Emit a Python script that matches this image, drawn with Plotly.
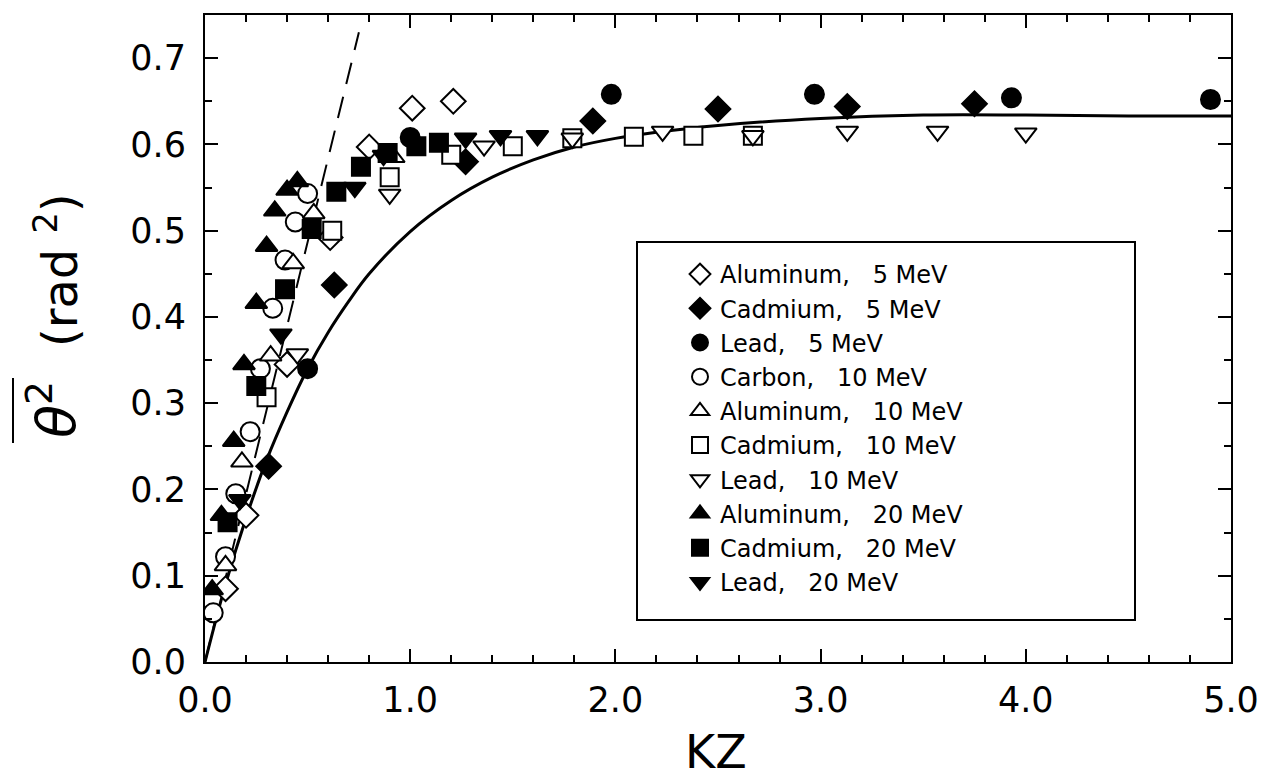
import plotly.graph_objects as go

# Mean square scattering angle vs. KZ, measured for several targets/energies
al5_x = [0.10, 0.20, 0.40, 0.61, 0.80, 1.01, 1.21]
al5_y = [0.085, 0.170, 0.345, 0.492, 0.597, 0.642, 0.650]

cd5_x = [0.31, 0.63, 1.27, 1.89, 2.50, 3.13, 3.75]
cd5_y = [0.227, 0.437, 0.580, 0.627, 0.641, 0.644, 0.647]

pb5_x = [0.50, 1.00, 1.98, 2.97, 3.93, 4.90]
pb5_y = [0.340, 0.608, 0.658, 0.658, 0.654, 0.652]

c10_x = [0.04, 0.10, 0.15, 0.22, 0.27, 0.33, 0.39, 0.44, 0.50]
c10_y = [0.057, 0.122, 0.195, 0.267, 0.340, 0.410, 0.466, 0.510, 0.543]

al10_x = [0.10, 0.18, 0.32, 0.43, 0.53, 0.92]
al10_y = [0.112, 0.232, 0.355, 0.462, 0.520, 0.585]

cd10_x = [0.30, 0.62, 0.90, 1.20, 1.50, 1.79, 2.09, 2.38, 2.67]
cd10_y = [0.307, 0.500, 0.562, 0.588, 0.598, 0.607, 0.609, 0.610, 0.610]

pb10_x = [0.45, 0.90, 1.36, 1.79, 2.23, 2.67, 3.13, 3.57, 4.00]
pb10_y = [0.357, 0.542, 0.598, 0.607, 0.615, 0.610, 0.615, 0.615, 0.613]

al20_x = [0.035, 0.08, 0.14, 0.19, 0.25, 0.30, 0.34, 0.40, 0.45]
al20_y = [0.084, 0.170, 0.256, 0.345, 0.416, 0.482, 0.523, 0.547, 0.557]

cd20_x = [0.11, 0.25, 0.39, 0.52, 0.64, 0.76, 0.89, 1.03, 1.14]
cd20_y = [0.162, 0.320, 0.432, 0.502, 0.545, 0.574, 0.590, 0.598, 0.602]

pb20_x = [0.17, 0.37, 0.73, 0.87, 1.27, 1.44, 1.62]
pb20_y = [0.188, 0.380, 0.550, 0.587, 0.607, 0.610, 0.610]

# theory curve (solid) and initial-slope line (dashed)
theory_x = [0.0, 0.1, 0.2, 0.3, 0.4, 0.5, 0.6, 0.7, 0.8, 1.0, 1.2, 1.4, 1.6,
            1.8, 2.0, 2.2, 2.5, 3.0, 3.5, 4.0, 4.5, 5.0]
theory_y = [0.0, 0.090, 0.167, 0.234, 0.290, 0.340, 0.382, 0.418, 0.450, 0.499,
            0.535, 0.562, 0.582, 0.597, 0.607, 0.614, 0.622, 0.630, 0.634,
            0.634, 0.633, 0.633]
slope_x = [0.0, 0.75]
slope_y = [0.0, 0.73]

SP = "\u00a0" * 3
series = [
    ("Aluminum,", "5 MeV", al5_x, al5_y, "diamond", True),
    ("Cadmium,", "5 MeV", cd5_x, cd5_y, "diamond", False),
    ("Lead,", "5 MeV", pb5_x, pb5_y, "circle", False),
    ("Carbon,", "10 MeV", c10_x, c10_y, "circle", True),
    ("Aluminum,", "10 MeV", al10_x, al10_y, "triangle-up", True),
    ("Cadmium,", "10 MeV", cd10_x, cd10_y, "square", True),
    ("Lead,", "10 MeV", pb10_x, pb10_y, "triangle-down", True),
    ("Aluminum,", "20 MeV", al20_x, al20_y, "triangle-up", False),
    ("Cadmium,", "20 MeV", cd20_x, cd20_y, "square", False),
    ("Lead,", "20 MeV", pb20_x, pb20_y, "triangle-down", False),
]
sizes = {"diamond": 19, "circle": 19, "triangle-up": 19, "square": 18,
         "triangle-down": 19}

fig = go.Figure()
fig.add_trace(go.Scatter(x=theory_x, y=theory_y, mode="lines",
                         line=dict(color="black", width=3, shape="spline"),
                         showlegend=False, hoverinfo="skip"))
fig.add_trace(go.Scatter(x=slope_x, y=slope_y, mode="lines",
                         line=dict(color="black", width=2, dash="22px,13px"),
                         showlegend=False, hoverinfo="skip"))

for name, energy, xs, ys, sym, hollow in series:
    fig.add_trace(go.Scatter(
        x=xs, y=ys, mode="markers",
        name=f"{name}{SP}{energy}",
        marker=dict(symbol=sym, size=sizes[sym],
                    color="white" if hollow else "black",
                    line=dict(color="black", width=2)),
    ))

FONT = "DejaVu Sans"
L, R, T, B = 205, 46, 15, 120
W, H = 1277, 782
pw, ph = W - L - R, H - T - B


def px(xp):
    return (xp - L) / pw


def py(yp):
    return (H - B - yp) / ph


axis_common = dict(showline=True, linecolor="black", linewidth=2, mirror="ticks",
                   ticks="inside", ticklen=13, tickwidth=2, tickcolor="black",
                   showgrid=False, zeroline=False,
                   tickfont=dict(family=FONT, size=35, color="black"))

fig.update_xaxes(range=[0, 5], dtick=1.0, tick0=0, tickformat=".1f",
                 minor=dict(dtick=0.2, ticks="inside", ticklen=7, tickwidth=2,
                            tickcolor="black", showgrid=False),
                 ticklabelstandoff=6, **axis_common)
fig.update_yaxes(range=[0, 0.75], dtick=0.1, tick0=0, tickformat=".1f",
                 minor=dict(dtick=0.05, ticks="inside", ticklen=7, tickwidth=2,
                            tickcolor="black", showgrid=False),
                 ticklabelstandoff=10, **axis_common)

# legend frame
fig.add_shape(type="rect", xref="paper", yref="paper",
              x0=px(637), x1=px(1135), y0=py(620), y1=py(242),
              line=dict(color="black", width=2), fillcolor="white", layer="below")

# axis titles
fig.add_annotation(text="KZ", xref="paper", yref="paper", x=px(716), y=py(752),
                   xanchor="center", yanchor="middle", showarrow=False,
                   font=dict(family=FONT, size=46, color="black"))
fig.add_annotation(text="(rad <sup>2</sup>)", xref="paper", yref="paper",
                   x=px(57), y=py(270), xanchor="center", yanchor="middle",
                   textangle=-90, showarrow=False,
                   font=dict(family=FONT, size=48, color="black"))
fig.add_annotation(text="<i>θ</i><sup>2</sup>", xref="paper", yref="paper",
                   x=px(52), y=py(410), xanchor="center", yanchor="middle",
                   textangle=-90, showarrow=False,
                   font=dict(family=FONT, size=54, color="black"))
# bar over theta
fig.add_shape(type="line", xref="paper", yref="paper",
              x0=px(13), x1=px(13), y0=py(443), y1=py(378),
              line=dict(color="black", width=2))

fig.update_layout(
    width=W, height=H,
    margin=dict(l=L, r=R, t=T, b=B),
    paper_bgcolor="white", plot_bgcolor="white",
    font=dict(family=FONT, color="black"),
    legend=dict(x=px(680), y=py(252), xanchor="left", yanchor="top",
                bgcolor="rgba(0,0,0,0)", borderwidth=0,
                font=dict(family=FONT, size=24, color="black"),
                tracegroupgap=0, itemwidth=30),
)

fig.write_html("out.html")
